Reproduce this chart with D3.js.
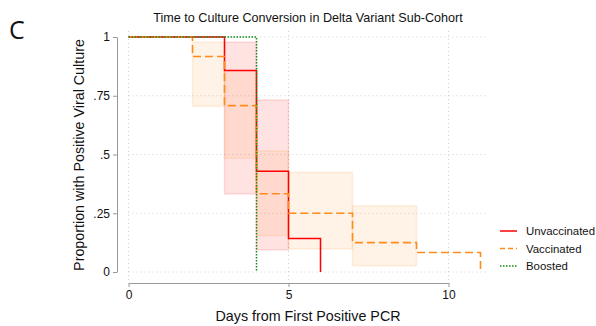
<!DOCTYPE html>
<html>
<head>
<meta charset="utf-8">
<script src="https://cdn.jsdelivr.net/npm/d3@7"></script>
<style>
  body { margin: 0; background: #fff; }
  svg { display: block; font-family: "Liberation Sans", Arial, sans-serif; }
</style>
</head>
<body>
<div id="chart"></div>
<script>
// step data
var unvaxTime = [0, 3, 4, 5, 6];
var unvaxSurv = [1, 0.857, 0.429, 0.143, 0];
var unvaxLo = [null, 0.332, 0.094, null];
var unvaxHi = [null, 0.978, 0.732, null];

var vaxTime = [0, 2, 3, 4, 5, 7, 9, 11];
var vaxSurv = [1, 0.917, 0.708, 0.333, 0.25, 0.125, 0.083, 0];
var vaxLo = [null, 0.705, 0.484, 0.155, 0.098, 0.027, null];
var vaxHi = [null, 0.978, 0.857, 0.515, 0.424, 0.282, null];

var boostTime = [0, 4];
var boostSurv = [1, 0];

var yTicks = [0, 0.25, 0.5, 0.75, 1];
var yTickLabels = ["0", ".25", ".5", ".75", "1"];
var xTicks = [0, 5, 10];
var xTickLabels = ["0", "5", "10"];

var legendNames = ["Unvaccinated", "Vaccinated", "Boosted"];

var width = 596, height = 326;

var svg = d3.select("#chart")
    .append("svg")
    .attr("width", width)
    .attr("height", height);

var x = d3.scaleLinear()
    .domain([0, 10])
    .range([128.5, 448.5]);

var y = d3.scaleLinear()
    .domain([0, 1])
    .range([272, 37]);

var red = "#ff0000", orange = "#ff8c1a", green = "#138a13";

// grid
svg.append("g")
    .selectAll("line")
    .data(yTicks)
    .join("line")
    .attr("x1", x(0))
    .attr("x2", x(11.25))
    .attr("y1", function (d) { return y(d) })
    .attr("y2", function (d) { return y(d) })
    .attr("stroke", "#d0d0d0")
    .attr("stroke-width", 1)
    .attr("stroke-dasharray", "1,3");

svg.append("g")
    .selectAll("line")
    .data(xTicks)
    .join("line")
    .attr("x1", function (d) { return x(d) })
    .attr("x2", function (d) { return x(d) })
    .attr("y1", 31)
    .attr("y2", 283)
    .attr("stroke", "#d0d0d0")
    .attr("stroke-width", 1)
    .attr("stroke-dasharray", "1,3");

// confidence bands
function bands(times, lo, hi, color) {
    var rows = [];
    for (let i = 0; i < lo.length; i++) {
        if (lo[i] != null) rows.push({ t0: times[i], t1: times[i + 1], lo: lo[i], hi: hi[i] });
    }
    svg.append("g")
        .selectAll("rect")
        .data(rows)
        .join("rect")
        .attr("x", function (d) { return x(d.t0) })
        .attr("width", function (d) { return x(d.t1) - x(d.t0) })
        .attr("y", function (d) { return y(d.hi) })
        .attr("height", function (d) { return y(d.lo) - y(d.hi) })
        .attr("fill", color)
        .attr("fill-opacity", 0.11)
        .attr("stroke", color)
        .attr("stroke-opacity", 0.12)
        .attr("stroke-width", 1.5);
}
bands(unvaxTime, unvaxLo, unvaxHi, red);
bands(vaxTime, vaxLo, vaxHi, orange);

// step lines
var step = d3.line()
    .x(function (d) { return x(d[0]) })
    .y(function (d) { return y(d[1]) })
    .curve(d3.curveStepAfter);

svg.append("path")
    .datum(d3.zip(unvaxTime, unvaxSurv))
    .attr("fill", "none")
    .attr("stroke", red)
    .attr("stroke-width", 1.5)
    .attr("d", step);

svg.append("path")
    .datum(d3.zip(vaxTime, vaxSurv))
    .attr("fill", "none")
    .attr("stroke", orange)
    .attr("stroke-width", 1.6)
    .attr("stroke-dasharray", "8,4")
    .attr("d", step);

svg.append("path")
    .datum(d3.zip(boostTime, boostSurv))
    .attr("fill", "none")
    .attr("stroke", green)
    .attr("stroke-width", 1.5)
    .attr("stroke-dasharray", "1.5,1.5")
    .attr("d", step);

// axes
var yAxis = svg.append("g")
    .attr("transform", "translate(117,0)")
    .call(d3.axisLeft(y)
        .tickValues(yTicks)
        .tickFormat(function (d, i) { return yTickLabels[i] })
        .tickSize(4)
        .tickSizeOuter(0)
        .tickPadding(3));

var xAxis = svg.append("g")
    .attr("transform", "translate(0,283)")
    .call(d3.axisBottom(x)
        .tickValues(xTicks)
        .tickFormat(function (d, i) { return xTickLabels[i] })
        .tickSize(4)
        .tickSizeOuter(0)
        .tickPadding(3));

[yAxis, xAxis].forEach(function (a) {
    a.select(".domain").attr("stroke", "#999");
    a.selectAll(".tick line").attr("stroke", "#999");
    a.selectAll(".tick text")
        .attr("fill", "#111")
        .style("font-size", "12px")
        .style("font-family", "Liberation Sans, Arial, sans-serif");
});

// titles
svg.append("text")
    .attr("x", 308)
    .attr("y", 21.5)
    .attr("text-anchor", "middle")
    .style("font-size", "12.6px")
    .attr("fill", "#111")
    .text("Time to Culture Conversion in Delta Variant Sub-Cohort");

svg.append("text")
    .attr("x", 9)
    .attr("y", 39)
    .style("font-size", "25px")
    .style("font-family", "Open Sans, DejaVu Sans, sans-serif")
    .attr("fill", "#111")
    .text("C");

svg.append("text")
    .attr("transform", "translate(83.5,155) rotate(-90)")
    .attr("text-anchor", "middle")
    .style("font-size", "14.3px")
    .attr("fill", "#111")
    .text("Proportion with Positive Viral Culture");

svg.append("text")
    .attr("x", 308)
    .attr("y", 321)
    .attr("text-anchor", "middle")
    .style("font-size", "14.3px")
    .attr("fill", "#111")
    .text("Days from First Positive PCR");

// legend
var legendStyle = [
    { color: red, dash: null, w: 1.5 },
    { color: orange, dash: "5,3", w: 1.6 },
    { color: green, dash: "1.5,1.5", w: 1.5 }
];
var legend = svg.append("g")
    .selectAll("g")
    .data(legendNames)
    .join("g")
    .attr("transform", function (d, i) { return "translate(500," + (231 + i * 17.5) + ")" });

legend.append("line")
    .attr("x1", 0)
    .attr("x2", 17)
    .attr("stroke", function (d, i) { return legendStyle[i].color })
    .attr("stroke-width", function (d, i) { return legendStyle[i].w })
    .attr("stroke-dasharray", function (d, i) { return legendStyle[i].dash });

legend.append("text")
    .attr("x", 26)
    .attr("y", 4)
    .style("font-size", "11.4px")
    .attr("fill", "#111")
    .text(function (d) { return d });
</script>
</body>
</html>
